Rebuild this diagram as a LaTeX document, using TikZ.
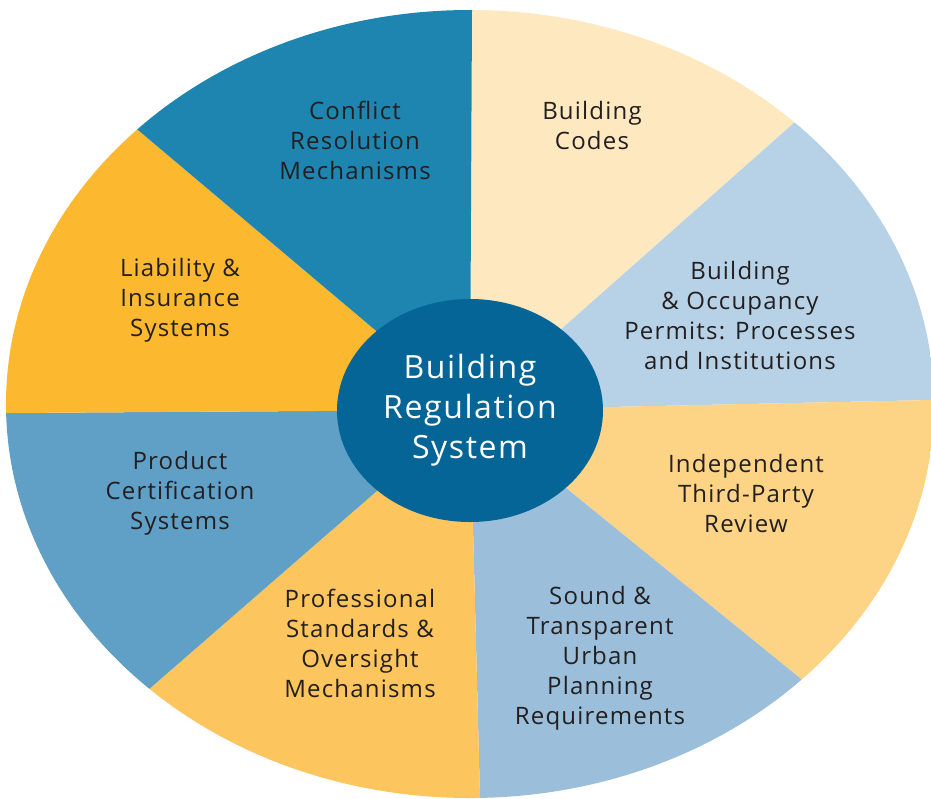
\documentclass[tikz,border=0pt]{standalone}
\usepackage{fontspec}
\setmainfont{Open Sans}[LetterSpace=5]
\usetikzlibrary{calc,shapes.geometric}
\definecolor{cConflict}{HTML}{1D85B0}
\definecolor{cCodes}{HTML}{FDE8C0}
\definecolor{cPermits}{HTML}{B7D2E6}
\definecolor{cReview}{HTML}{FDD385}
\definecolor{cUrban}{HTML}{9BBFDA}
\definecolor{cProf}{HTML}{FCC55E}
\definecolor{cProduct}{HTML}{609FC6}
\definecolor{cLiability}{HTML}{FCB92F}
\definecolor{cHub}{HTML}{046596}
\definecolor{cText}{HTML}{231F20}
\begin{document}
\begin{tikzpicture}[x=1pt,y=-1pt,
		lbl/.style={align=center, text=cText, font=\fontsize{24}{30}\selectfont}]
		\useasboundingbox (0,0) rectangle (931,798);
		\coordinate (o) at (470,410);
		% where the dividers meet the rim
		\coordinate (e1) at (472,10);
		\coordinate (e2) at (795,122);
		\coordinate (e3) at (931,400);
		\coordinate (e4) at (806,683);
		\coordinate (e5) at (480,798);
		\coordinate (e6) at (148,690);
		\coordinate (e7) at (7,413);
		\coordinate (e8) at (138,130);
		\begin{scope}
			\clip (470,404) ellipse [x radius=464, y radius=394];
			\fill[cCodes] (o) -- ($(o)!3!(e1)$) -- ($(o)!3!(e2)$) -- cycle;
			\fill[cPermits] (o) -- ($(o)!3!(e2)$) -- ($(o)!3!(e3)$) -- cycle;
			\fill[cReview] (o) -- ($(o)!3!(e3)$) -- ($(o)!3!(e4)$) -- cycle;
			\fill[cUrban] (o) -- ($(o)!3!(e4)$) -- ($(o)!3!(e5)$) -- cycle;
			\fill[cProf] (o) -- ($(o)!3!(e5)$) -- ($(o)!3!(e6)$) -- cycle;
			\fill[cProduct] (o) -- ($(o)!3!(e6)$) -- ($(o)!3!(e7)$) -- cycle;
			\fill[cLiability] (o) -- ($(o)!3!(e7)$) -- ($(o)!3!(e8)$) -- cycle;
			\fill[cConflict] (o) -- ($(o)!3!(e8)$) -- ($(o)!3!(e1)$) -- cycle;
		\end{scope}
		\node[ellipse, fill=cHub, inner sep=0pt, minimum width=266, minimum height=223, text=white, align=center, font=\fontsize{32}{40}\selectfont] (hub) at (470,410.5) {Building\\Regulation\\System};
		\node[lbl] (conflict) at (355,140) {Conflict\\Resolution\\Mechanisms};
		\node[lbl] (codes) at (592,125) {Building\\Codes};
		\node[lbl] (permits) at (740,315) {Building\\\& Occupancy\\Permits: Processes\\and Institutions};
		\node[lbl] (review) at (746,493) {Independent\\Third-Party\\Review};
		\node[lbl] (urban) at (600,658) {Sound \&\\Transparent\\Urban\\Planning\\Requirements};
		\node[lbl] (prof) at (360,643) {Professional\\Standards \&\\Oversight\\Mechanisms};
		\node[lbl] (product) at (180,493) {Product\\Certification\\Systems};
		\node[lbl] (liability) at (180,300) {Liability \&\\Insurance\\Systems};
	\end{tikzpicture}
\end{document}
